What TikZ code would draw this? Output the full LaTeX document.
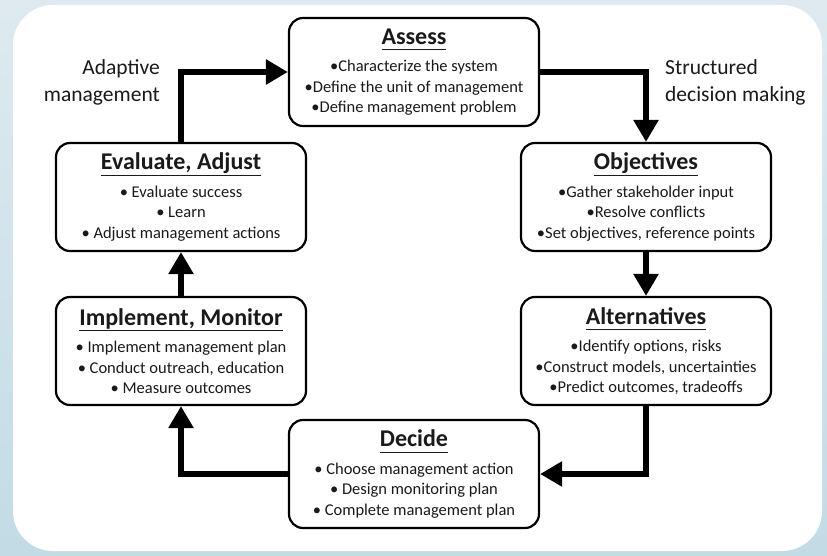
\documentclass[tikz,border=0pt]{standalone}
\usepackage{fontspec}
\setmainfont{Carlito}
\usepackage{tikz}
\usetikzlibrary{arrows.meta}
\definecolor{bgtop}{HTML}{DEEAF0}
\definecolor{bgbottom}{HTML}{C3DBE5}
\definecolor{ink}{HTML}{1A1A1A}
\tikzstyle{stage}=[draw=black, rounded corners=14pt, line width=2.2pt, minimum width=250pt, minimum height=108pt, inner sep=0pt, align=center, text=ink, font=\fontsize{16.5}{20.5}\selectfont]
\tikzstyle{flow}=[line width=6.5pt, -{Triangle[width=24pt,length=22pt]}]
\tikzstyle{note}=[text=ink, font=\fontsize{21.5}{27}\selectfont, inner sep=0pt]
\newcommand{\stage}{\node[stage]}
\newcommand{\heading}[1]{{\fontsize{24}{28}\selectfont\bfseries\underline{#1\vphantom{p}}}\\[7pt]}

\begin{document}
\begin{tikzpicture}[x=1pt, y=-1pt]
    \useasboundingbox (0,0) rectangle (827,556);
    % background
    \fill[top color=bgtop, bottom color=bgbottom] (0,0) rectangle (827,556);
    \fill[white, rounded corners=40pt] (13,5) rectangle (822,551);

    \stage (assess) at (414,72) {\heading{Assess}
        •Characterize the system\\
        •Define the unit of management\\
        •Define management problem};
    \stage (obj) at (646,197) {\heading{Objectives}
        •Gather stakeholder input\\
        •Resolve conflicts\\
        •Set objectives, reference points};
    \stage (alt) at (646,351) {\heading{Alternatives}
        •Identify options, risks\\
        •Construct models, uncertainties\\
        •Predict outcomes, tradeoffs};
    \stage (decide) at (414,474) {\heading{Decide}
        • Choose management action\\
        • Design monitoring plan\\
        • Complete management plan};
    \stage (impl) at (181,351) {\heading{Implement, Monitor}
        • Implement management plan\\
        • Conduct outreach, education\\
        • Measure outcomes};
    \stage (eval) at (181,197) {\heading{Evaluate, Adjust}
        • Evaluate success\\
        • Learn\\
        • Adjust management actions};

    \node[note, anchor=east, align=right] (adapt) at (160,82) {Adaptive\\management};
    \node[note, anchor=west, align=left] (sdm) at (665,82) {Structured\\decision making};

    % the cycle
    \draw[flow] (eval.north) |- (assess.west);
    \draw[flow] (assess.east) -| (obj.north);
    \draw[flow] (obj.south) -- (alt.north);
    \draw[flow] (alt.south) |- (decide.east);
    \draw[flow] (decide.west) -| (impl.south);
    \draw[flow] (impl.north) -- (eval.south);
\end{tikzpicture}
\end{document}
